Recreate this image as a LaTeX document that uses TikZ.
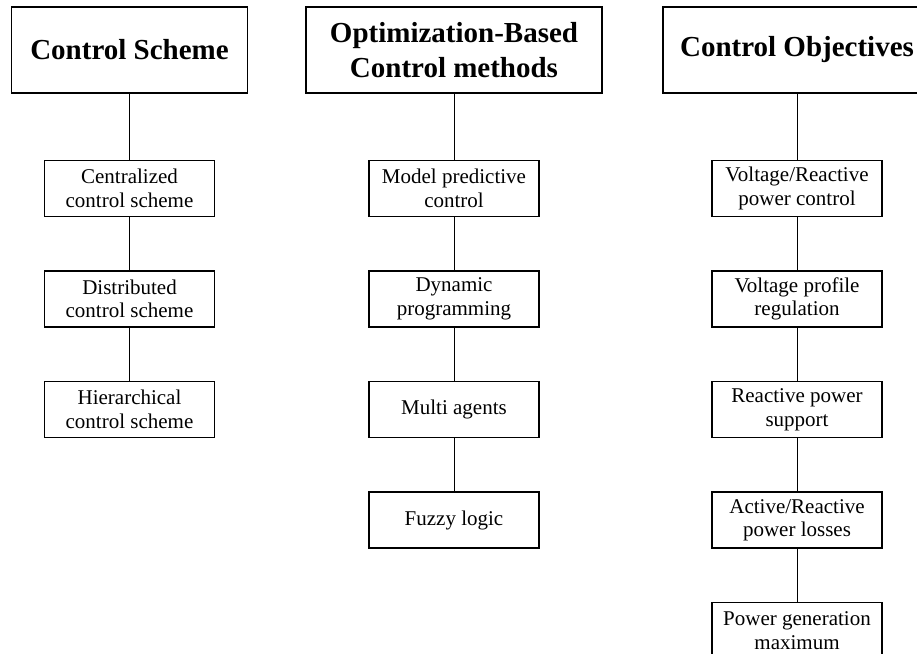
\documentclass[tikz,border=0pt]{standalone}
\usepackage{fontspec}
\setmainfont{Liberation Serif}
\usetikzlibrary{positioning}
\tikzset{
headbox/.style={
  draw=black,
  line width=1.6pt,
  minimum height=86pt,
  inner sep=0pt,
  align=center,
  font=\fontsize{29}{35}\selectfont\bfseries
  },
itembox/.style={
  draw=black,
  line width=1.5pt,
  minimum width=170pt,
  minimum height=56pt,
  inner sep=0pt,
  align=center,
  font=\fontsize{21}{23.5}\selectfont
  },
link/.style={line width=0.9pt}
}

\begin{document}
\begin{tikzpicture}[x=1pt,y=1pt,node distance=53pt]
\clip (0,0) rectangle (917,-653);

% headers
\node[headbox,minimum width=236pt] (scheme) at (129.5,-50) {Control Scheme};
\node[headbox,minimum width=296pt] (methods) at (454,-50) {Optimization-Based\\Control methods};
\node[headbox,minimum width=268pt] (objectives) at (797,-50) {Control Objectives};

% control scheme
\node[itembox,below=66pt of scheme] (scheme1) {Centralized\\control scheme};
\node[itembox,below=of scheme1] (scheme2) {Distributed\\control scheme};
\node[itembox,below=of scheme2] (scheme3) {Hierarchical\\control scheme};

% methods
\node[itembox,below=66pt of methods] (methods1) {Model predictive\\control};
\node[itembox,below=of methods1] (methods2) {Dynamic\\programming};
\node[itembox,below=of methods2] (methods3) {Multi agents};
\node[itembox,below=of methods3] (methods4) {Fuzzy logic};

% objectives
\node[itembox,below=66pt of objectives] (obj1) {Voltage/Reactive\\power control};
\node[itembox,below=of obj1] (obj2) {Voltage profile\\regulation};
\node[itembox,below=of obj2] (obj3) {Reactive power\\support};
\node[itembox,below=of obj3] (obj4) {Active/Reactive\\power losses};
\node[itembox,below=of obj4] (obj5) {Power generation\\maximum};

\draw[link] (scheme) -- (scheme1);
\draw[link] (scheme1) -- (scheme2);
\draw[link] (scheme2) -- (scheme3);

\draw[link] (methods) -- (methods1);
\draw[link] (methods1) -- (methods2);
\draw[link] (methods2) -- (methods3);
\draw[link] (methods3) -- (methods4);

\draw[link] (objectives) -- (obj1);
\draw[link] (obj1) -- (obj2);
\draw[link] (obj2) -- (obj3);
\draw[link] (obj3) -- (obj4);
\draw[link] (obj4) -- (obj5);

\end{tikzpicture}
\end{document}
